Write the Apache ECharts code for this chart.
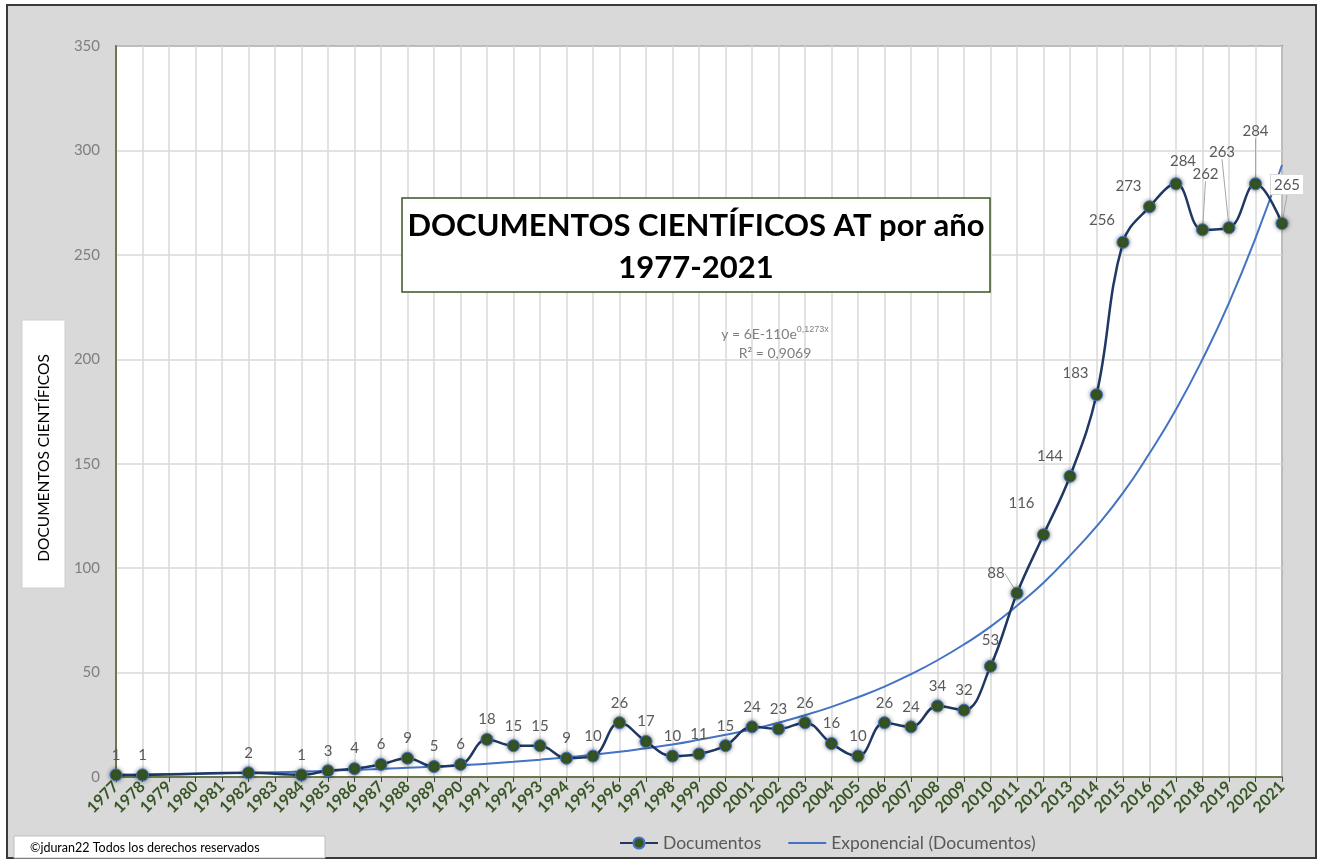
<!DOCTYPE html>
<html>
<head>
    <meta charset="utf-8">
    <title>Documentos científicos</title>
    <script src="https://cdn.jsdelivr.net/npm/echarts@6/dist/echarts.min.js"></script>
    <style>
        body { margin: 0; background: #fff; }
        #main { width: 1324px; height: 863px; }
    </style>
</head>
<body>
<div id="main"></div>

<script type="text/javascript">
    // años
    var years = ['1977','1978','1979','1980','1981','1982','1983','1984','1985','1986',
        '1987','1988','1989','1990','1991','1992','1993','1994','1995','1996',
        '1997','1998','1999','2000','2001','2002','2003','2004','2005','2006',
        '2007','2008','2009','2010','2011','2012','2013','2014','2015','2016',
        '2017','2018','2019','2020','2021'];
    // documentos por año (sin dato en 1979-1981 y 1983)
    var documentos = [1, 1, null, null, null, 2, null, 1, 3, 4,
        6, 9, 5, 6, 18, 15, 15, 9, 10, 26,
        17, 10, 11, 15, 24, 23, 26, 16, 10, 26,
        24, 34, 32, 53, 88, 116, 144, 183, 256, 273,
        284, 262, 263, 284, 265];
    // línea de tendencia exponencial
    var tendencia = [1.1, 1.2, 1.4, 1.6, 1.8, 2.0, 2.3, 2.6, 3.0, 3.4,
        3.8, 4.4, 5.0, 5.6, 6.4, 7.3, 8.3, 9.4, 10.7, 12.1,
        13.8, 15.6, 17.8, 20.2, 22.9, 26.0, 29.6, 33.6, 38.2, 43.3,
        49.2, 55.9, 63.5, 72, 82, 93, 106, 120, 136, 155,
        176, 200, 227, 258, 293];
    var yTicks = [0, 50, 100, 150, 200, 250, 300, 350];

    // desplazamiento de etiquetas (índice -> [dx, dy])
    var desplaza = {
        33: [0, -6], 34: [-21, 0], 35: [-22, -12], 36: [-20, 0], 37: [-21, -2],
        38: [-21, -2], 39: [-21, -1], 40: [7, -3], 41: [3, -36], 42: [-7, -56],
        43: [0, -33], 44: [5, -17]
    };
    var conGuia = [34, 41, 42, 43, 44];

    var datosDoc = documentos.map(function (v, i) {
        var d = { value: v };
        if (conGuia.indexOf(i) >= 0) {
            d.labelLine = { show: true, lineStyle: { color: '#a6a6a6', width: 1 } };
        }
        if (i === 44) {
            d.label = { backgroundColor: '#fff', borderColor: '#d9d9d9', borderWidth: 1, padding: [3, 3, 1, 3] };
        }
        return d;
    });

    var myChart = echarts.init(document.getElementById('main'));
    myChart.setOption({
        backgroundColor: '#fff',
        animation: false,
        textStyle: { fontFamily: 'Lato' },
        grid: { left: 116, right: 42, top: 46, bottom: 86, show: true, borderColor: '#404040', borderWidth: 1.5, backgroundColor: '#fff' },
        legend: {
            left: 614, top: 829,
            itemWidth: 38, itemHeight: 14, itemGap: 26,
            textStyle: { color: '#595959', fontSize: 17.5, fontFamily: 'Lato' },
            data: [
                { name: 'Documentos' },
                { name: 'Exponencial (Documentos)', itemStyle: { opacity: 0 } }
            ]
        },
        xAxis: {
            type: 'category',
            data: years,
            boundaryGap: false,
            axisLine: { lineStyle: { color: '#4f6228', width: 1.5 } },
            axisTick: { show: true, alignWithLabel: true, length: 5, lineStyle: { color: '#404040' } },
            axisLabel: { rotate: 45, interval: 0, color: '#375623', fontWeight: 'bold', fontSize: 16, margin: 7 },
            splitLine: { show: true, interval: 0, lineStyle: { color: '#d9d9d9', width: 1.5 } }
        },
        yAxis: {
            type: 'value',
            min: yTicks[0], max: yTicks[yTicks.length - 1], interval: 50,
            axisLine: { show: true, lineStyle: { color: '#4f6228', width: 1.5 } },
            axisTick: { show: false },
            axisLabel: { color: '#7f7f7f', fontSize: 15, margin: 16 },
            splitLine: { lineStyle: { color: '#d9d9d9', width: 1.5 } }
        },
        graphic: [
            { type: 'rect', z: -10, silent: true, shape: { x: 7, y: 5, width: 1309, height: 853 },
              style: { fill: '#d9d9d9', stroke: '#3a3a3a', lineWidth: 2 } },
            { type: 'rect', z: 100, shape: { x: 402, y: 198, width: 588, height: 94 },
              style: { fill: '#fff', stroke: '#375623', lineWidth: 1.5 } },
            { type: 'text', z: 101, x: 696, y: 205,
              style: { text: 'DOCUMENTOS CIENTÍFICOS AT por año\n1977-2021', fill: '#000', font: 'bold 31px Lato',
                       align: 'center', verticalAlign: 'top', lineHeight: 42 } },
            { type: 'text', z: 101, x: 775, y: 325,
              style: { align: 'center', fill: '#7f7f7f',
              text: 'y = 6E-110e{s|0,1273x}\nR² = 0,9069', font: '14px Lato', lineHeight: 19,
              rich: { s: { fontSize: 9, fill: '#7f7f7f', padding: [0, 0, 9, 0] } } } },
            { type: 'rect', z: 100, shape: { x: 22, y: 320, width: 43, height: 268 },
              style: { fill: '#fff', stroke: '#cfcfcf', lineWidth: 1 } },
            { type: 'text', z: 101, x: 44, y: 458, rotation: Math.PI / 2,
              style: { text: 'DOCUMENTOS CIENTÍFICOS', fill: '#000', font: '15.5px Lato', align: 'center', verticalAlign: 'middle' } },
            { type: 'rect', z: 100, shape: { x: 14, y: 836, width: 311, height: 22 },
              style: { fill: '#fff', stroke: '#bfbfbf', lineWidth: 1 } },
            { type: 'text', z: 101, x: 30, y: 848,
              style: { text: '©jduran22 Todos los derechos reservados', fill: '#000', font: '12.5px Lato', verticalAlign: 'middle' } }
        ],
        series: [
            {
                name: 'Exponencial (Documentos)',
                type: 'line',
                data: tendencia,
                smooth: true,
                symbol: 'none',
                z: 3,
                lineStyle: { color: '#4472c4', width: 2 },
                itemStyle: { color: '#4472c4' }
            },
            {
                name: 'Documentos',
                type: 'line',
                data: datosDoc,
                smooth: 0.4,
                connectNulls: true,
                symbol: 'circle',
                symbolSize: 12,
                z: 4,
                lineStyle: { color: '#1f3864', width: 2.5 },
                itemStyle: { color: '#375623', borderColor: '#4472c4', borderWidth: 1,
                             shadowBlur: 4, shadowColor: 'rgba(0,0,0,0.45)' },
                label: { show: true, position: 'top', distance: 6, color: '#595959', fontSize: 15 },
                labelLayout: function (p) {
                    var o = desplaza[p.dataIndex];
                    return o ? { dx: o[0], dy: o[1] } : {};
                }
            }
        ]
    });
</script>
</body>
</html>
